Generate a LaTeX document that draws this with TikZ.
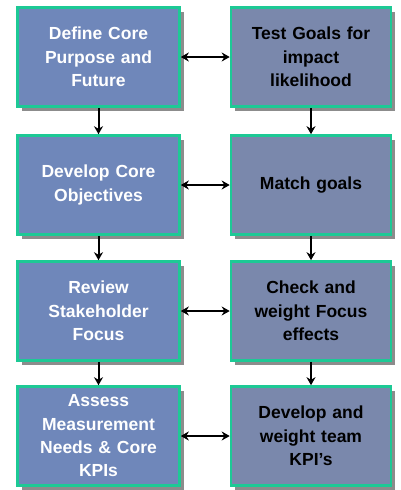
\documentclass[tikz,border=0pt]{standalone}
\usepackage{fontspec}
\setmainfont{Liberation Sans}
\usetikzlibrary{arrows.meta,shadows}
\definecolor{leftfill}{HTML}{6F87BA}
\definecolor{rightfill}{HTML}{7A88AC}
\definecolor{edgegreen}{HTML}{1DC995}
\definecolor{shadowgray}{HTML}{8C8C8C}
\tikzset{
  x=1pt,y=1pt,
  boxbase/.style={draw=edgegreen, line width=2.6pt, align=center, font=\bfseries\fontsize{17.5}{23.3}\selectfont,
    inner sep=2pt, drop shadow={shadow xshift=4pt, shadow yshift=-4pt, fill=shadowgray, opacity=1}},
  leftbox/.style={boxbase, fill=leftfill, text=white, minimum width=162pt, minimum height=99pt, text width=156pt},
  rightbox/.style={boxbase, fill=rightfill, text=black, minimum width=160pt, minimum height=99pt, text width=154pt},
  flow/.style={draw=black, line width=2pt, -{Stealth[length=8pt,width=9pt]}},
  link/.style={draw=black, line width=2pt, {Stealth[length=8pt,width=9pt]}-{Stealth[length=8pt,width=9pt]}}
}
\begin{document}
\begin{tikzpicture}
\useasboundingbox (0,0) rectangle (400,-490);
\fill[white] (0,0) rectangle (400,-490);
\node[leftbox] (l1) at (98.5,-57) {Define Core\\Purpose and\\Future};
\node[leftbox] (l2) at (98.5,-185) {Develop Core\\Objectives};
\node[leftbox] (l3) at (98.5,-311) {Review\\Stakeholder\\Focus};
\node[leftbox] (l4) at (98.5,-436) {Assess\\Measurement\\Needs \& Core\\KPIs};
\node[rightbox] (r1) at (311,-57) {Test Goals for\\impact\\likelihood};
\node[rightbox] (r2) at (311,-185) {Match goals};
\node[rightbox] (r3) at (311,-311) {Check and\\weight Focus\\effects};
\node[rightbox] (r4) at (311,-436) {Develop and\\weight team\\KPI's};
\draw[flow] (l1.south) -- (l2.north);
\draw[flow] (l2.south) -- (l3.north);
\draw[flow] (l3.south) -- (l4.north);
\draw[flow] (r1.south) -- (r2.north);
\draw[flow] (r2.south) -- (r3.north);
\draw[flow] (r3.south) -- (r4.north);
\draw[link] (l1.east) -- (r1.west);
\draw[link] (l2.east) -- (r2.west);
\draw[link] (l3.east) -- (r3.west);
\draw[link] (l4.east) -- (r4.west);
\end{tikzpicture}
\end{document}
